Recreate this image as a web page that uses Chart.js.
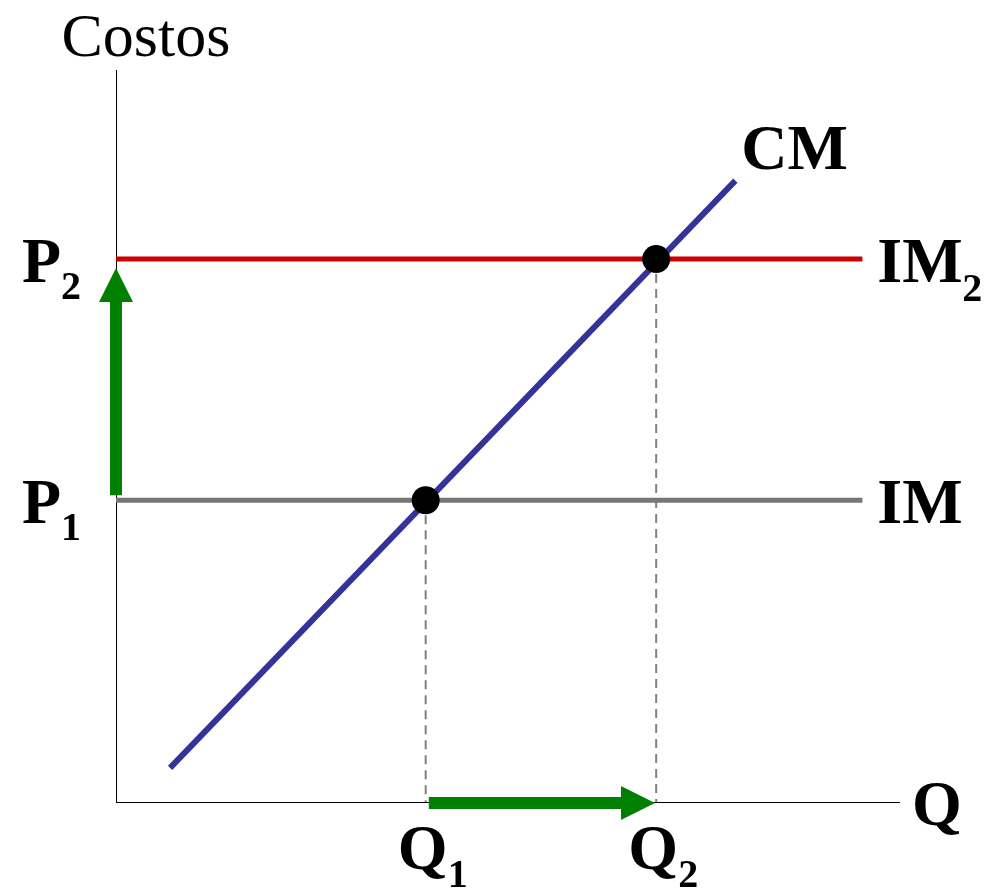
<!DOCTYPE html>
<html>
<head>
<meta charset="utf-8">
<script src="https://cdn.jsdelivr.net/npm/chart.js@4"></script>
<style>
html,body{margin:0;padding:0;background:#fff;}
#wrap{position:relative;width:996px;height:889px;overflow:hidden;}
#wrap canvas{position:absolute;left:0;top:0;}
.lbl{position:absolute;white-space:nowrap;line-height:1;color:#000;font-family:"Liberation Serif","Times New Roman",serif;}
.big{font-size:64px;font-weight:bold;}
.sub{font-size:40px;font-weight:bold;}
.title{font-size:62px;font-weight:normal;}
</style>
</head>
<body>
<div id="wrap"><canvas id="c" width="996" height="889"></canvas></div>
<script>
// ---- data (axis units 0..100) ----
const axisPts = [[0,100],[0,0],[100,0]];
const cmLine = [[6.9,4.8],[79.0,84.9]];
const imLevels = [41.3, 74.2];        // P1 (IM), P2 (IM2)
const lineEndX = 95.2;
const qValues = [39.5, 68.9];         // Q1, Q2
const priceLabels = ['P','P'];
const priceSubs = ['1','2'];
const qLabels = ['Q','Q'];
const qSubs = ['1','2'];
const curveLabels = ['IM','IM','CM'];
const curveSubs = ['','2',''];
const yTitle = 'Costos';
const xTitle = 'Q';
const arrows = [
  {from:[0,42.0], to:[0,73.0]},
  {from:[39.9,0], to:[68.75,0]}
];

const pts = a => a.map(p => ({x:p[0], y:p[1]}));

const datasets = [
  {label:'axes', data:pts(axisPts), borderColor:'#000', borderWidth:2, order:5},
  {label:'IM', data:[{x:0,y:imLevels[0]},{x:lineEndX,y:imLevels[0]}], borderColor:'#7a7575', borderWidth:5, order:4},
  {label:'IM2', data:[{x:0,y:imLevels[1]},{x:lineEndX,y:imLevels[1]}], borderColor:'#cc0000', borderWidth:5, order:4},
  {label:'CM', data:pts(cmLine), borderColor:'#333399', borderWidth:6, order:3},
  {label:'d1', data:[{x:qValues[0],y:imLevels[0]},{x:qValues[0],y:0}], borderColor:'#808080', borderWidth:2, borderDash:[9,6], order:6},
  {label:'d2', data:[{x:qValues[1],y:imLevels[1]},{x:qValues[1],y:0}], borderColor:'#808080', borderWidth:2, borderDash:[9,6], order:6},
  {label:'eq', data:[{x:qValues[0],y:imLevels[0]},{x:qValues[1],y:imLevels[1]}], showLine:false, pointRadius:14, pointBackgroundColor:'#000', pointBorderWidth:0, order:0}
];
datasets.forEach(d => { if (d.pointRadius === undefined) d.pointRadius = 0; d.showLine = d.showLine !== false; d.fill = false; d.borderCapStyle = 'butt'; });

const wrap = document.getElementById('wrap');
// place text so its alphabetic baseline sits at y (line-height 1 -> baseline ~0.8375em below top)
function place(text, cls, size, x, baseline, align){
  const d = document.createElement('div');
  d.className = 'lbl ' + cls;
  d.textContent = text;
  wrap.appendChild(d);
  let left = x;
  if (align === 'center') left = x - d.offsetWidth/2;
  d.style.left = left + 'px';
  d.style.top = (baseline - 0.8375*size) + 'px';
  return {el:d, right:left + d.offsetWidth};
}

const labelPlugin = {
  id:'labels',
  afterDatasetsDraw(chart){
    const ctx = chart.ctx, xs = chart.scales.x, ys = chart.scales.y;
    ctx.save();
    ctx.fillStyle = '#008000'; ctx.strokeStyle = '#008000';
    arrows.forEach(a => {
      const x1 = xs.getPixelForValue(a.from[0]), y1 = ys.getPixelForValue(a.from[1]);
      const x2 = xs.getPixelForValue(a.to[0]), y2 = ys.getPixelForValue(a.to[1]);
      const ang = Math.atan2(y2-y1, x2-x1);
      const hl = 34, hw = 17;
      const bx = x2 - hl*Math.cos(ang), by = y2 - hl*Math.sin(ang);
      ctx.lineWidth = 12; ctx.lineCap = 'butt';
      ctx.beginPath(); ctx.moveTo(x1,y1); ctx.lineTo(bx+2*Math.cos(ang), by+2*Math.sin(ang)); ctx.stroke();
      ctx.beginPath();
      ctx.moveTo(x2,y2);
      ctx.lineTo(bx - hw*Math.sin(ang), by + hw*Math.cos(ang));
      ctx.lineTo(bx + hw*Math.sin(ang), by - hw*Math.cos(ang));
      ctx.closePath(); ctx.fill();
    });
    ctx.restore();
  },
  afterRender(chart){
    if (chart.$labelsDone) return;
    chart.$labelsDone = true;
    const xs = chart.scales.x, ys = chart.scales.y;
    const x0 = xs.getPixelForValue(0), y0 = ys.getPixelForValue(0);
    imLevels.forEach((v,i) => {
      const py = ys.getPixelForValue(v);
      const m = place(priceLabels[i], 'big', 64, x0-94, py+23);
      place(priceSubs[i], 'sub', 40, m.right, py+40);
    });
    const xe = xs.getPixelForValue(lineEndX);
    imLevels.forEach((v,i) => {
      const py = ys.getPixelForValue(v);
      const m = place(curveLabels[i], 'big', 64, xe+15, py+23);
      if (curveSubs[i]) place(curveSubs[i], 'sub', 40, m.right, py+42);
    });
    const cx = xs.getPixelForValue(cmLine[1][0]), cy = ys.getPixelForValue(cmLine[1][1]);
    place(curveLabels[2], 'big', 64, cx+6, cy-11);
    qValues.forEach((v,i) => {
      const px = xs.getPixelForValue(v);
      const m = place(qLabels[i], 'big', 64, px-28, y0+67);
      place(qSubs[i], 'sub', 40, m.right, y0+84);
    });
    place(xTitle, 'big', 64, xs.getPixelForValue(100)+12, y0+23);
    place(yTitle, 'title', 62, x0+30, ys.getPixelForValue(100)-14, 'center');
  }
};

new Chart(document.getElementById('c'), {
  type:'scatter',
  data:{datasets},
  options:{
    responsive:false, animation:false,
    layout:{padding:{left:116, right:96, top:70, bottom:86}},
    plugins:{legend:{display:false}, tooltip:{enabled:false}},
    scales:{
      x:{type:'linear', min:0, max:100, display:false},
      y:{type:'linear', min:0, max:100, display:false}
    },
    elements:{line:{tension:0}}
  },
  plugins:[labelPlugin]
});
</script>
</body>
</html>
